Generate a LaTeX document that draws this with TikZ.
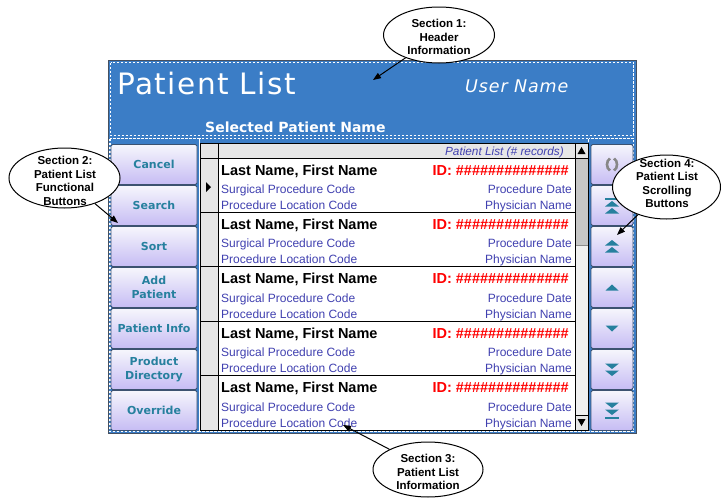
\documentclass[tikz,border=0pt]{standalone}
\usepackage{fontspec}
\setmainfont{Liberation Sans}
\newfontfamily\verd{DejaVu Sans}
\newfontfamily\verdspaced{DejaVu Sans}[LetterSpace=5]
\usetikzlibrary{shapes.geometric,arrows.meta}

\definecolor{hdrblue}{RGB}{59,125,198}
\definecolor{framegray}{RGB}{70,80,95}
\definecolor{listblue}{RGB}{64,64,176}
\definecolor{btnteal}{RGB}{38,128,158}
\definecolor{icongray}{RGB}{135,135,135}
\definecolor{btntop}{RGB}{246,246,252}
\definecolor{btnbot}{RGB}{198,188,244}
\definecolor{btnedge}{RGB}{60,82,112}
\definecolor{gridgray}{RGB}{230,230,230}
\definecolor{trackgray}{RGB}{240,240,240}
\definecolor{thumbgray}{RGB}{198,198,198}

\begin{document}
\begin{tikzpicture}[x=1pt,y=-1pt,
  wdash/.style={draw=white,line width=1.1pt,dash pattern=on 2.5pt off 1.5pt},
  btn/.style={rectangle,rounded corners=1.5pt,draw=btnedge,line width=0.9pt,
    top color=btntop,bottom color=btnbot,inner sep=0pt,
    minimum height=40pt,text=btnteal,align=center,
    font=\verd\bfseries\fontsize{11}{13.5}\selectfont},
  lbtn/.style={btn,minimum width=86pt},
  rbtn/.style={btn,minimum width=42pt},
  listline/.style={draw=black,line width=0.8pt},
  nametxt/.style={inner sep=0pt,anchor=base west,font=\bfseries\fontsize{14.5}{17}\selectfont},
  idtxt/.style={inner sep=0pt,anchor=base east,text=red,font=\bfseries\fontsize{14.5}{17}\selectfont},
  infol/.style={inner sep=0pt,anchor=base west,text=listblue,font=\fontsize{12}{14}\selectfont},
  infor/.style={inner sep=0pt,anchor=base east,text=listblue,font=\fontsize{12}{14}\selectfont},
  callout/.style={ellipse,draw=black,fill=white,line width=1pt,inner sep=0pt},
  callouttext/.style={inner sep=0pt,align=center,font=\bfseries\fontsize{11.5}{13.5}\selectfont},
  callarrow/.style={draw=black,line width=1pt,-{Triangle[length=8pt,width=6pt]}},
  icon/.style={fill=btnteal},
]
\useasboundingbox (0,0) rectangle (721,498);

% outer screen frame and blue background
\fill[hdrblue] (108,60) rectangle (636,433.5);
\draw[framegray,line width=0.9pt] (108,60) rectangle (636,433.5);

% dashed section outlines
\draw[wdash] (110.5,62.5) rectangle (633.8,135.5);
\draw[wdash] (110,138.5) rectangle (199.5,431.8);
\draw[wdash] (199.5,138.5) rectangle (588.5,431.8);
\draw[wdash] (588.5,138.5) rectangle (633.8,431.8);

% header texts
\node[inner sep=0pt,anchor=base west,text=white,font=\verdspaced\fontsize{29.5}{30}\selectfont]
  (title) at (117,94.5) {Patient List};
\node[inner sep=0pt,anchor=base west,text=white,font=\verdspaced\itshape\fontsize{17.5}{20}\selectfont]
  (user) at (465,92) {User Name};
\node[inner sep=0pt,anchor=base west,text=white,font=\verd\bfseries\fontsize{14}{16}\selectfont]
  (selected) at (205,132) {Selected Patient Name};

% patient list grid
\fill[white] (218,158) rectangle (575,430);
\fill[gridgray] (200,143) rectangle (218,430);
\fill[gridgray] (218,143) rectangle (575,158);
\fill[trackgray] (575,158) rectangle (588,415);
\fill[thumbgray] (575,158) rectangle (588,245);
\draw[black!45,line width=0.5pt] (575,245) -- (588,245);
\fill[gridgray] (575,143) rectangle (588,158);
\fill[gridgray] (575,415) rectangle (588,430);
\draw[listline] (200,143) rectangle (588,430);
\draw[listline] (218,143) -- (218,430);
\draw[listline] (200,158) -- (588,158);
\draw[listline] (575,143) -- (575,430);
\draw[listline] (575,415) -- (588,415);
\foreach \i in {1,...,4}{
  \draw[listline] (200,{158+54.4*\i}) -- (575,{158+54.4*\i});
}
% scroll arrows and current-row marker
\fill[black] (577.5,154) -- (581.5,147) -- (585.5,154) -- cycle;
\fill[black] (577.5,419) -- (581.5,426) -- (585.5,419) -- cycle;
\fill[black] (206,182) -- (211,187) -- (206,192) -- cycle;

\node[inner sep=0pt,anchor=base east,text=listblue,font=\itshape\fontsize{11.8}{13}\selectfont]
  (listhdr) at (564,155.5) {Patient List (\# records)};

\foreach \i in {0,...,4}{
  \pgfmathsetmacro{\ry}{158+54.4*\i}
  \node[nametxt] (name\i) at (221,{\ry+17}) {Last Name, First Name};
  \node[idtxt] (id\i) at (569,{\ry+17}) {ID: \#\#\#\#\#\#\#\#\#\#\#\#\#\#};
  \node[infol] (proc\i) at (221,{\ry+35.5}) {Surgical Procedure Code};
  \node[infor] (date\i) at (572,{\ry+35.5}) {Procedure Date};
  \node[infol] (loc\i) at (221,{\ry+51.5}) {Procedure Location Code};
  \node[infor] (doc\i) at (572,{\ry+51.5}) {Physician Name};
}

% functional buttons
\node[lbtn] (cancel)  at (154,164.5) {Cancel};
\node[lbtn] (search)  at (154,205.5) {Search};
\node[lbtn] (sort)    at (154,246.5) {Sort};
\node[lbtn] (add)     at (154,287.5) {Add\\Patient};
\node[lbtn] (info)    at (154,328.5) {Patient Info};
\node[lbtn] (product) at (154,369.5) {Product\\Directory};
\node[lbtn] (override) at (154,410.5) {Override};

% scrolling buttons
\node[rbtn] (refresh) at (612,164.5) {};
\node[rbtn] (first)   at (612,205.5) {};
\node[rbtn] (pageup)  at (612,246.5) {};
\node[rbtn] (lineup)  at (612,287.5) {};
\node[rbtn] (linedn)  at (612,328.5) {};
\node[rbtn] (pagedn)  at (612,369.5) {};
\node[rbtn] (last)    at (612,410.5) {};

% scrolling button icons
\draw[icongray,line width=2.6pt] ([shift={(-2,-6)}]refresh.center) .. controls +(-4,2) and +(-4,-2) .. +(0,12);
\draw[icongray,line width=2.6pt] ([shift={(2,-6)}]refresh.center) .. controls +(4,2) and +(4,-2) .. +(0,12);

% jump to first: bar over two stacked up-triangles
\fill[icon] ([shift={(-7,-8)}]first.center) rectangle ([shift={(7,-6)}]first.center);
\fill[icon] ([shift={(-7,1)}]first.center) -- ([shift={(0,-4.5)}]first.center) -- ([shift={(7,1)}]first.center) -- cycle;
\fill[icon] ([shift={(-7,8)}]first.center) -- ([shift={(0,2.5)}]first.center) -- ([shift={(7,8)}]first.center) -- cycle;

% page up: two stacked up-triangles
\fill[icon] ([shift={(-7,-1)}]pageup.center) -- ([shift={(0,-6.5)}]pageup.center) -- ([shift={(7,-1)}]pageup.center) -- cycle;
\fill[icon] ([shift={(-7,6)}]pageup.center) -- ([shift={(0,0.5)}]pageup.center) -- ([shift={(7,6)}]pageup.center) -- cycle;

% line up / line down
\fill[icon] ([shift={(-6.5,3)}]lineup.center) -- ([shift={(0,-3)}]lineup.center) -- ([shift={(6.5,3)}]lineup.center) -- cycle;
\fill[icon] ([shift={(-6.5,-3)}]linedn.center) -- ([shift={(0,3)}]linedn.center) -- ([shift={(6.5,-3)}]linedn.center) -- cycle;

% page down: two stacked down-triangles
\fill[icon] ([shift={(-7,-6)}]pagedn.center) -- ([shift={(0,-0.5)}]pagedn.center) -- ([shift={(7,-6)}]pagedn.center) -- cycle;
\fill[icon] ([shift={(-7,1)}]pagedn.center) -- ([shift={(0,6.5)}]pagedn.center) -- ([shift={(7,1)}]pagedn.center) -- cycle;

% jump to last: two stacked down-triangles over a bar
\fill[icon] ([shift={(-7,-8)}]last.center) -- ([shift={(0,-2.5)}]last.center) -- ([shift={(7,-8)}]last.center) -- cycle;
\fill[icon] ([shift={(-7,-1)}]last.center) -- ([shift={(0,4.5)}]last.center) -- ([shift={(7,-1)}]last.center) -- cycle;
\fill[icon] ([shift={(-7,6)}]last.center) rectangle ([shift={(7,8)}]last.center);

% section callouts
\node[callout,minimum width=111pt,minimum height=56pt] (s1) at (439,35) {};
\node[callouttext] (s1t) at (439,37) {Section 1:\\Header\\Information};
\node[callout,minimum width=111pt,minimum height=60pt] (s2) at (64.5,178) {};
\node[callouttext] (s2t) at (65,181) {Section 2:\\Patient List\\Functional\\Buttons};
\node[callout,minimum width=110pt,minimum height=55pt] (s3) at (428,469.5) {};
\node[callouttext] (s3t) at (428,472) {Section 3:\\Patient List\\Information};
\node[callout,minimum width=108pt,minimum height=64pt] (s4) at (666.5,187) {};
\node[callouttext] (s4t) at (667,183.5) {Section 4:\\Patient List\\Scrolling\\Buttons};

\coordinate (t1) at (373,80);
\coordinate (t2) at (118,223);
\coordinate (t3) at (343,425);
\coordinate (t4) at (617,235);
\draw[callarrow] (s1) -- (t1);
\draw[callarrow] (s2) -- (t2);
\draw[callarrow] (s3) -- (t3);
\draw[callarrow] (s4) -- (t4);
\end{tikzpicture}
\end{document}
